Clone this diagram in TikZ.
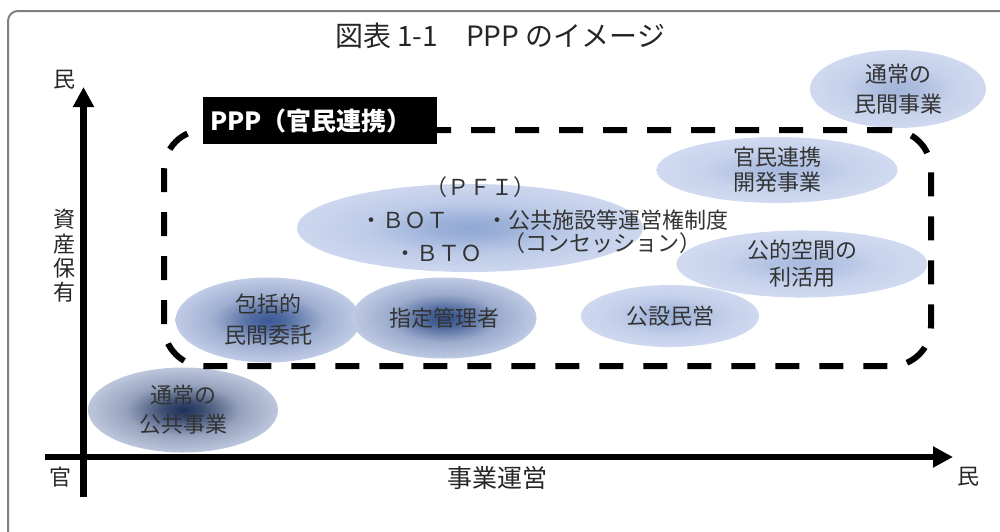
\documentclass[tikz,border=0pt]{standalone}
\usepackage{fontspec}
\setmainfont{Noto Sans CJK JP}
\usetikzlibrary{shapes.geometric,arrows.meta}
\definecolor{edgeblue}{HTML}{D7DFF3}
\definecolor{txt}{HTML}{333333}
\definecolor{framegray}{HTML}{808080}
\definecolor{cA}{HTML}{A3B5DA}
\definecolor{cB}{HTML}{A8BADE}
\definecolor{cC}{HTML}{90A8D4}
\definecolor{cD}{HTML}{3A5894}
\definecolor{cE}{HTML}{304E88}
\definecolor{cF}{HTML}{9CB0D8}
\definecolor{cG}{HTML}{1E3158}
\colorlet{blobc}{blue}
\colorlet{blobe}{white}
\pgfdeclareradialshading[blobc,blobe]{blob}{\pgfpoint{0bp}{0bp}}{color(0bp)=(blobc);color(5bp)=(blobc!85!blobe);color(15bp)=(blobc!35!blobe);color(32bp)=(blobe);color(50bp)=(blobe)}
\tikzset{
  blob/.style={ellipse, inner sep=0pt, shading=blob,
    /utils/exec={\colorlet{blobc}{#1}\colorlet{blobe}{edgeblue}},
    text=txt, align=center, font=\fontsize{11}{14}\selectfont},
  intext/.style={text=txt, inner sep=0pt, font=\fontsize{11}{14}\selectfont},
  axislabel/.style={text=black!85, inner sep=0pt, font=\fontsize{11}{12.2}\selectfont, align=center},
  axisline/.style={line width=3.25pt, -{Triangle[length=10pt,width=10pt]}},
  pppline/.style={draw, line width=3pt, dash pattern=on 12pt off 10pt, rounded corners=20pt},
}
\begin{document}
\begin{tikzpicture}[x=0.5pt,y=-0.5pt]
\useasboundingbox (0,0) rectangle (1000,531);
% frame
\draw[framegray, line width=1pt, rounded corners=5pt] (8,580) -- (8,11) -- (1030,11);
% title
\node[inner sep=0pt, font=\fontsize{14}{16}\selectfont, text=black!85] (title) at (500,36) {図表 1-1　PPP のイメージ};
% ellipses
\node[blob=cA, minimum width=88pt, minimum height=39pt] (n1) at (898,89) {通常の\\[1pt]民間事業};
\node[blob=cB, minimum width=120.5pt, minimum height=33pt, font=\fontsize{11}{12.5}\selectfont] (n2) at (777,170) {官民連携\\開発事業};
\node[blob=cC, minimum width=173pt, minimum height=44pt] (pfi) at (470,228) {};
\node[blob=cB, minimum width=125.5pt, minimum height=30.5pt, font=\fontsize{11}{13.5}\selectfont] (n4) at (802,264) {公的空間の\\利活用};
\node[blob=cD, minimum width=92.5pt, minimum height=42.5pt, font=\fontsize{11}{15.5}\selectfont] (n5) at (268,320) {包括的\\民間委託};
\node[blob=cE, minimum width=92.5pt, minimum height=40.5pt] (n6) at (444,318) {指定管理者};
\node[blob=cF, minimum width=89pt, minimum height=31pt] (n7) at (670,316) {公設民営};
\node[blob=cG, minimum width=95pt, minimum height=42.5pt, font=\fontsize{11}{14.5}\selectfont] (n8) at (183,410) {通常の\\公共事業};
% PFI texts
\node[intext] (pfit) at (480,187) {（ＰＦＩ）};
\node[intext] (bot) at (404,220) {・ＢＯＴ};
\node[intext] (kokyo) at (607,220) {・公共施設等運営権制度};
\node[intext] (conc) at (602,243) {（コンセッション）};
\node[intext] (bto) at (438,253) {・ＢＴＯ};
% PPP dashed region
\node[pppline, minimum width=383.5pt, minimum height=118pt] (ppp) at (547.5,248) {};
\node[fill=black, text=white, minimum width=117pt, minimum height=23.5pt, inner xsep=3.5pt, inner ysep=0pt,
      text width=110pt, align=left, font=\bfseries\fontsize{12.5}{14}\selectfont] (pppbox) at (320,120.5) {PPP（官民連携）};
% axes
\coordinate (yb) at (83.5,497);
\coordinate (yt) at (83.5,87);
\coordinate (xl) at (45,457);
\coordinate (xr) at (953,457);
\draw[axisline] (yb) -- (yt);
\draw[axisline] (xl) -- (xr);
% axis labels
\node[axislabel] (ymax) at (64,80) {民};
\node[axislabel] (origin) at (60,477) {官};
\node[axislabel] (xmax) at (968,477) {民};
\node[axislabel, font=\fontsize{12.5}{14}\selectfont] (xname) at (497,478) {事業運営};
\node[axislabel] (yname) at (64,256) {資\\産\\保\\有};
\end{tikzpicture}
\end{document}
